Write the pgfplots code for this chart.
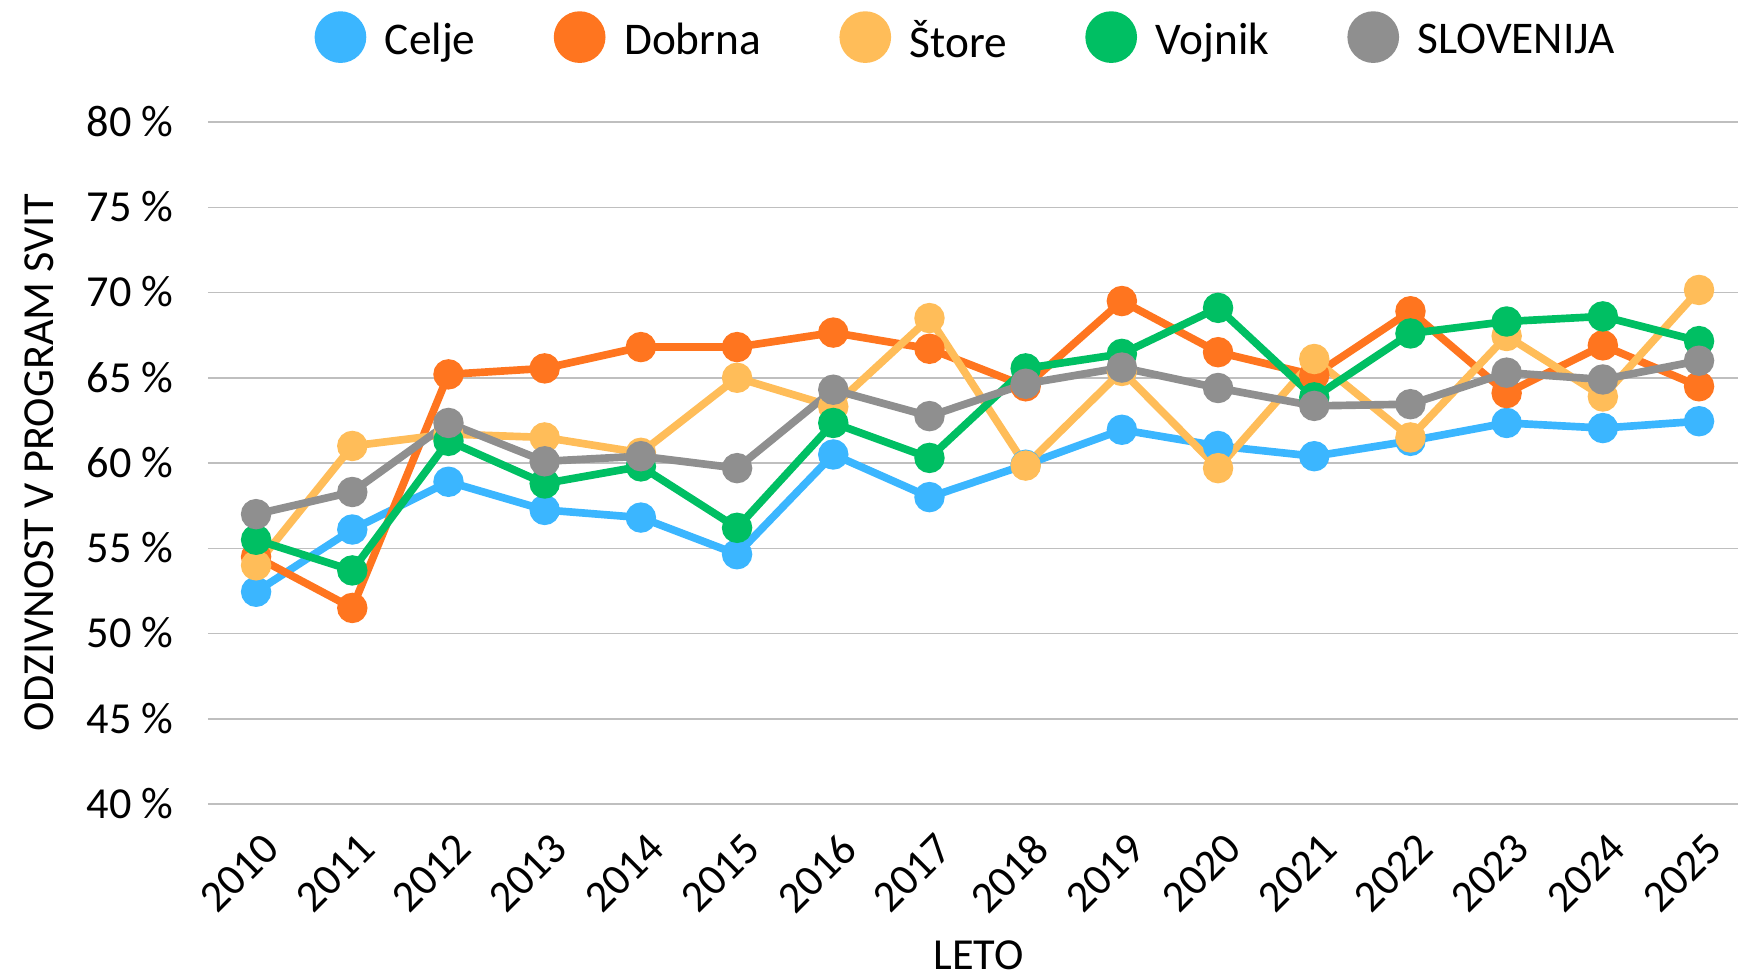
\documentclass[border=0pt]{standalone}
\usepackage{fontspec}
\setmainfont{Carlito}
\usepackage{pgfplots}
\pgfplotsset{compat=1.18}
\definecolor{cCelje}{RGB}{59,182,255}
\definecolor{cDobrna}{RGB}{255,117,31}
\definecolor{cStore}{RGB}{255,189,89}
\definecolor{cVojnik}{RGB}{0,191,99}
\definecolor{cSlo}{RGB}{143,143,143}
\newcommand{\bigfont}{\fontsize{13.3}{16}\selectfont}
\newcommand{\legfont}{\fontsize{13.6}{16}\selectfont}
\begin{document}
\begin{tikzpicture}
\path[use as bounding box] (-62.4pt,-51.3pt) rectangle (459pt,241.2pt);
\begin{axis}[
  at={(0,0)}, anchor=south west,
  scale only axis, width=459pt, height=204.6pt,
  xmin=2009.5, xmax=2025.405, ymin=40, ymax=80,
  clip=false,
  axis line style={draw=none},
  tick style={draw=none},
  ymajorgrids, grid style={color=black!25, line width=0.45pt},
  xtick={2010,2011,...,2025},
  ytick={40,45,...,80},
  xticklabel={\pgfmathparse{int(round(\tick))}\pgfmathresult},
  yticklabel={\pgfmathparse{int(round(\tick))}\pgfmathresult\ \%},
  xticklabel style={font=\bigfont, inner sep=0pt, anchor=north east, xshift=1.4pt, yshift=-7.8pt, rotate=45},
  yticklabel style={font=\bigfont, inner sep=0pt, anchor=east, xshift=-10.2pt, yshift=0.2pt},
  xlabel={LETO}, ylabel={ODZIVNOST V PROGRAM SVIT},
  xlabel style={font=\bigfont, inner sep=0pt, at={(axis description cs:0.5036,-0.222)}, anchor=center},
  ylabel style={font=\bigfont, inner sep=0pt, at={(axis description cs:-0.1101,0.5)}, anchor=center},
  every axis plot/.append style={line width=2.3pt, mark=*, mark size=3.4pt},
  legend style={font=\legfont, draw=none, fill=none, inner sep=0pt, outer sep=0pt,
    at={(axis description cs:0.4945,1.1245)}, anchor=center,
    nodes={inner sep=0pt},
    /tikz/every odd column/.append style={column sep=5.6pt},
    /tikz/every even column/.append style={column sep=23.5pt}},
  legend columns=5,
  legend image code/.code={\fill[#1] (6.6pt,1.2pt) circle (6.6pt);},
]
\addplot[color=cCelje] coordinates {(2010,52.45)(2011,56.1)(2012,58.9)(2013,57.25)(2014,56.8)(2015,54.65)(2016,60.5)(2017,58.0)(2018,59.9)(2019,61.95)(2020,61.0)(2021,60.4)(2022,61.3)(2023,62.35)(2024,62.05)(2025,62.45)};
\addlegendentry{Celje}
\addplot[color=cDobrna] coordinates {(2010,54.5)(2011,51.5)(2012,65.2)(2013,65.55)(2014,66.8)(2015,66.8)(2016,67.65)(2017,66.7)(2018,64.5)(2019,69.5)(2020,66.5)(2021,65.15)(2022,68.9)(2023,64.1)(2024,66.9)(2025,64.5)};
\addlegendentry{Dobrna}
\addplot[color=cStore] coordinates {(2010,54.0)(2011,61.0)(2012,61.7)(2013,61.5)(2014,60.6)(2015,65.0)(2016,63.3)(2017,68.5)(2018,59.85)(2019,65.4)(2020,59.7)(2021,66.1)(2022,61.5)(2023,67.45)(2024,63.9)(2025,70.15)};
\addlegendentry{Štore}
\addplot[color=cVojnik] coordinates {(2010,55.5)(2011,53.7)(2012,61.3)(2013,58.8)(2014,59.8)(2015,56.2)(2016,62.35)(2017,60.3)(2018,65.55)(2019,66.4)(2020,69.1)(2021,63.85)(2022,67.6)(2023,68.3)(2024,68.6)(2025,67.15)};
\addlegendentry{Vojnik}
\addplot[color=cSlo] coordinates {(2010,57.0)(2011,58.3)(2012,62.35)(2013,60.1)(2014,60.4)(2015,59.7)(2016,64.3)(2017,62.75)(2018,64.65)(2019,65.6)(2020,64.4)(2021,63.35)(2022,63.45)(2023,65.3)(2024,64.9)(2025,66.0)};
\addlegendentry{SLOVENIJA}
\end{axis}
\end{tikzpicture}
\end{document}
